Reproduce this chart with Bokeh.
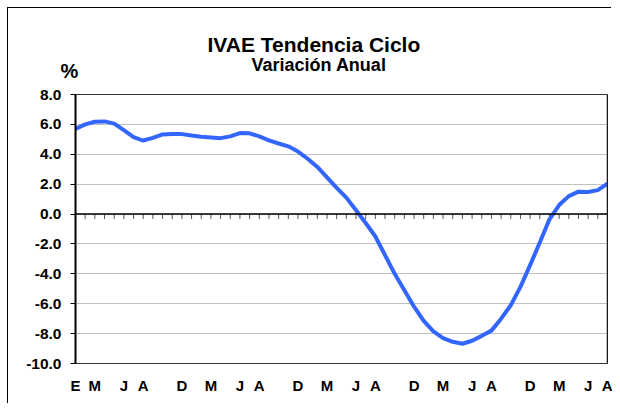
from bokeh.plotting import figure
from bokeh.models import Range1d, FixedTicker, Span, Label, Title, PrintfTickFormatter
from bokeh.embed import file_html
from bokeh.resources import INLINE

# ---- data -------------------------------------------------------------
months = list(range(56))  # monthly index, Jan of first year .. Aug of fifth year
ivae = [5.70, 6.00, 6.18, 6.20, 6.05, 5.62, 5.15, 4.92, 5.10, 5.33,
        5.35, 5.35, 5.25, 5.18, 5.13, 5.08, 5.20, 5.42, 5.40, 5.20,
        4.93, 4.72, 4.53, 4.18, 3.70, 3.15, 2.45, 1.75, 1.10, 0.25,
        -0.60, -1.50, -2.75, -4.00, -5.10, -6.20, -7.15, -7.85, -8.30, -8.55,
        -8.68, -8.48, -8.15, -7.80, -7.00, -6.10, -4.87, -3.42, -1.90, -0.35,
        0.60, 1.20, 1.50, 1.48, 1.60, 2.03]
label_idx = [0, 2, 5, 7, 11, 14, 17, 19, 23, 26, 29, 31, 35, 38, 41, 43, 47, 50, 53, 55]
label_txt = ["E", "M", "J", "A", "D", "M", "J", "A", "D", "M", "J", "A",
             "D", "M", "J", "A", "D", "M", "J", "A"]
y_ticks = [-10, -8, -6, -4, -2, 0, 2, 4, 6, 8]
title_text = "IVAE Tendencia Ciclo"
subtitle_text = "Variación Anual"
unit_text = "%"

FONT = "Liberation Sans"

p = figure(width=604, height=396, output_backend="svg", toolbar_location=None,
           x_range=Range1d(0, 55), y_range=Range1d(-10, 8),
           min_border_left=67, min_border_right=5, min_border_top=86, min_border_bottom=41,
           title=None)
p.styles = {"margin-left": "8px", "margin-top": "8px", "box-shadow": "-1px -1px 0 0 black"}

p.background_fill_color = "white"
p.border_fill_color = "white"
p.outline_line_color = "#333333"
p.outline_line_width = 1

# grid
p.xgrid.visible = False
p.ygrid.ticker = FixedTicker(ticks=y_ticks)
p.ygrid.grid_line_color = "#c0c0c0"
p.ygrid.grid_line_width = 1

# y axis
p.yaxis.ticker = FixedTicker(ticks=y_ticks)
p.yaxis.formatter = PrintfTickFormatter(format="%.1f")
p.yaxis.axis_line_color = "black"
p.yaxis.axis_line_width = 2
p.yaxis.major_tick_line_color = "black"
p.yaxis.major_tick_out = 5
p.yaxis.major_tick_in = 0
p.yaxis.minor_tick_line_color = None
p.yaxis.major_label_standoff = 9
p.yaxis.major_label_text_font = FONT
p.yaxis.major_label_text_font_style = "bold"
p.yaxis.major_label_text_font_size = "15.5px"
p.yaxis.major_label_text_color = "black"

# x axis (labels only)
p.xaxis.ticker = FixedTicker(ticks=label_idx)
p.xaxis.major_label_overrides = {i: t for i, t in zip(label_idx, label_txt)}
p.xaxis.axis_line_color = None
p.xaxis.major_tick_line_color = None
p.xaxis.minor_tick_line_color = None
p.xaxis.major_label_standoff = 7
p.xaxis.major_label_text_font = FONT
p.xaxis.major_label_text_font_style = "bold"
p.xaxis.major_label_text_font_size = "15px"
p.xaxis.major_label_text_color = "black"

# zero line with monthly tick marks
p.add_layout(Span(location=0, dimension="width", line_color="black", line_width=1.5))
p.segment(x0=months[1:-1], y0=[0] * (len(months) - 2), x1=months[1:-1],
          y1=[-0.33] * (len(months) - 2), line_color="#555555", line_width=1)

# right border emphasised
p.add_layout(Span(location=55, dimension="height", line_color="black", line_width=1.5))

# series
p.line(months, ivae, line_color="#3366FF", line_width=4, line_join="round", line_cap="round")

# unit label in a panel just above the frame
p.add_layout(Label(x=-6, y=24, x_units="screen", y_units="screen", text=unit_text,
                   text_align="center", text_baseline="alphabetic", text_font=FONT,
                   text_font_style="bold", text_font_size="20px", text_color="black"), "above")

# titles (subtitle first -> closest to the frame)
p.add_layout(Title(text=subtitle_text, align="left", offset=176, standoff=-4,
                   text_font=FONT, text_font_style="bold", text_font_size="18px",
                   text_color="black"), "above")
p.add_layout(Title(text=title_text, align="left", offset=132, standoff=-2,
                   text_font=FONT, text_font_style="bold", text_font_size="21px",
                   text_color="black"), "above")

open("out.html", "w").write(file_html(p, INLINE))
